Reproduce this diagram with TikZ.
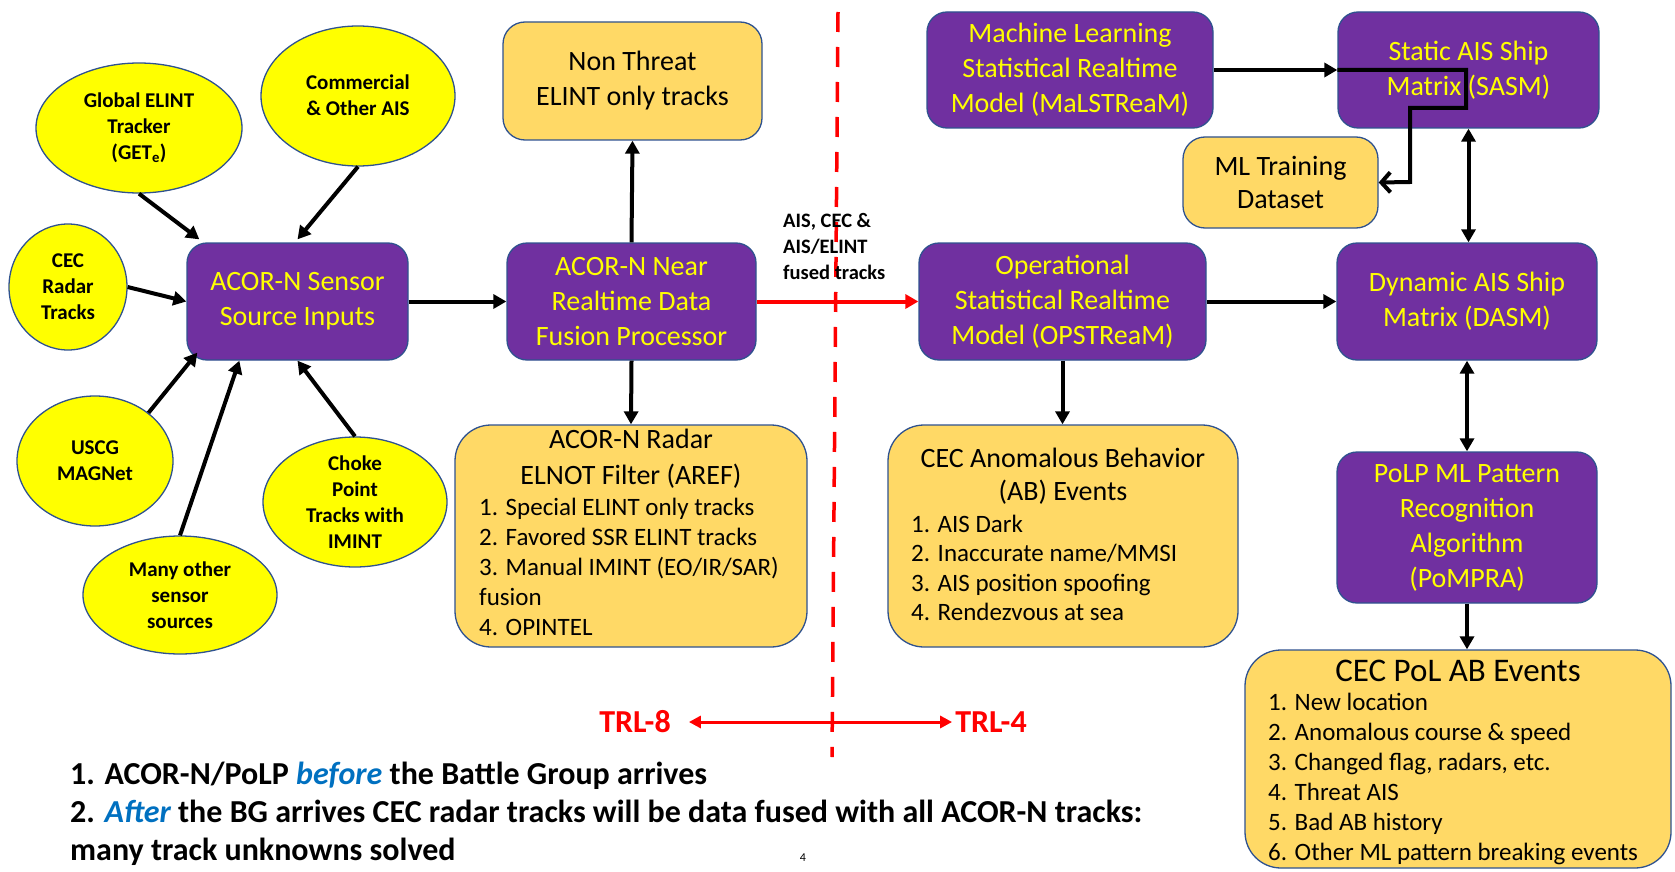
\documentclass[tikz,border=0pt]{standalone}
\usepackage{fontspec}
\setmainfont{Carlito}
\usetikzlibrary{arrows.meta,shapes.geometric,calc}
\definecolor{purp}{HTML}{7030A0}
\definecolor{gold}{HTML}{FFD966}
\definecolor{edgeblue}{HTML}{2F528F}
\definecolor{ylw}{HTML}{FFFF00}
\definecolor{bluetxt}{HTML}{0070C0}
\definecolor{myred}{HTML}{FF0000}
\begin{document}
\begin{tikzpicture}[x=1pt,y=-1pt,
  srcshape/.style={ellipse, draw=edgeblue, line width=1.3pt, fill=ylw, inner sep=0pt},
  srctext/.style={align=center, inner sep=0pt, font=\fontsize{21}{26}\selectfont\bfseries},
  pbox/.style={rectangle, rounded corners=20pt, draw=edgeblue, line width=1.3pt, fill=purp, text=ylw, align=center, inner sep=0pt, font=\fontsize{28}{35}\selectfont},
  obox/.style={rectangle, rounded corners=22pt, draw=edgeblue, line width=1.3pt, fill=gold, align=center, inner sep=0pt, font=\fontsize{28}{35}\selectfont},
  bigbox/.style={rectangle, rounded corners=36pt, draw=edgeblue, line width=1.3pt, fill=gold, inner sep=0pt},
  boxtitle/.style={align=center, inner sep=0pt, font=\fontsize{28}{36}\selectfont},
  boxitems/.style={align=left, inner sep=0pt, anchor=west, font=\fontsize{25}{30}\selectfont},
  arr/.style={line width=4pt, -{Triangle[length=13pt,width=14pt]}},
  dblarr/.style={line width=4pt, {Triangle[length=13pt,width=14pt]}-{Triangle[length=13pt,width=14pt]}},
  redarr/.style={myred, line width=4pt, -{Triangle[length=13pt,width=14pt]}},
  reddash/.style={myred, line width=3.5pt, dash pattern=on 20pt off 15pt},
  trl/.style={text=myred, inner ysep=0pt, font=\fontsize{32}{36}\selectfont\bfseries},
  lbl/.style={align=left, inner sep=0pt, font=\fontsize{20.5}{26}\selectfont\bfseries}
]
\useasboundingbox (0,0) rectangle (1675,872);

% ---------- source ellipses ----------
\node[srcshape, minimum width=206pt, minimum height=130pt] (ell_global) at (139,128) {};
\node[srctext] (t_global) at (ell_global) {Global ELINT\\Tracker\\(GET\textsubscript{e})};
\node[srcshape, minimum width=194pt, minimum height=140pt] (ell_comm) at (358,96) {};
\node[srctext] (t_comm) at (358,95) {Commercial\\\& Other AIS};
\node[srcshape, minimum width=118pt, minimum height=126pt] (ell_cec) at (68,287) {};
\node[srctext] (t_cec) at (ell_cec) {CEC\\Radar\\Tracks};
\node[srcshape, minimum width=156pt, minimum height=130pt] (ell_uscg) at (95,461) {};
\node[srctext] (t_uscg) at (ell_uscg) {USCG\\MAGNet};
\node[srcshape, minimum width=194pt, minimum height=118pt] (ell_many) at (180,595) {};
\node[srctext] (t_many) at (ell_many) {Many other\\sensor\\sources};
\node[srcshape, minimum width=184pt, minimum height=130pt] (ell_choke) at (355,502) {};
\node[srctext] (t_choke) at (ell_choke) {Choke\\Point\\Tracks with\\IMINT};

% ---------- boxes ----------
\node[pbox, minimum width=221pt, minimum height=117pt] (sensor) at (297.5,301.5) {ACOR-N Sensor\\Source Inputs};
\node[pbox, minimum width=249pt, minimum height=117pt] (near) at (631.5,301.5) {ACOR-N Near\\Realtime Data\\Fusion Processor};
\node[obox, minimum width=259pt, minimum height=118pt] (nonthreat) at (632.5,81) {Non Threat\\ELINT only tracks};

\node[bigbox, minimum width=352pt, minimum height=222pt] (aref) at (631,536) {};
\node[boxtitle] (aref_t) at (631,459) {ACOR-N Radar\\ELNOT Filter (AREF)};
\node[boxitems] (aref_i) at (479,567) {1. Special ELINT only tracks\\2. Favored SSR ELINT tracks\\3. Manual IMINT (EO/IR/SAR)\\fusion\\4. OPINTEL};

\node[pbox, minimum width=286pt, minimum height=116pt] (malstream) at (1070,70) {Machine Learning\\Statistical Realtime\\Model (MaLSTReaM)};
\node[pbox, minimum width=261pt, minimum height=116pt] (sasm) at (1468.5,70) {Static AIS Ship\\Matrix (SASM)};
\node[obox, font=\fontsize{28}{33}\selectfont, minimum width=195pt, minimum height=91pt] (mltrain) at (1280.5,182.5) {ML Training\\Dataset};
\node[pbox, minimum width=287pt, minimum height=117pt] (ops) at (1062.5,301.5) {Operational\\Statistical Realtime\\Model (OPSTReaM)};
\node[pbox, minimum width=260pt, minimum height=117pt] (dasm) at (1467,301.5) {Dynamic AIS Ship\\Matrix (DASM)};

\node[bigbox, minimum width=350pt, minimum height=222pt] (ab) at (1063,536) {};
\node[boxtitle, font=\fontsize{28}{33}\selectfont] (ab_t) at (1063,476) {CEC Anomalous Behavior\\(AB) Events};
\node[boxitems, font=\fontsize{25}{29.5}\selectfont] (ab_i) at (911,568) {1. AIS Dark\\2. Inaccurate name/MMSI\\3. AIS position spoofing\\4. Rendezvous at sea};

\node[pbox, minimum width=260pt, minimum height=151pt] (pompra) at (1467,527.5) {PoLP ML Pattern\\Recognition\\Algorithm\\(PoMPRA)};

\node[bigbox, minimum width=426pt, minimum height=218pt] (pol) at (1458,759) {};
\node[inner sep=0pt, font=\fontsize{33}{38}\selectfont] (pol_t) at (1458,671) {CEC PoL AB Events};
\node[boxitems] (pol_i) at (1268,779) {1. New location\\2. Anomalous course \& speed\\3. Changed flag, radars, etc.\\4. Threat AIS\\5. Bad AB history\\6. Other ML pattern breaking events};

% ---------- dashed divider and TRL ----------
\coordinate (dtop) at (838,12);
\coordinate (dbot) at (832,757);
\draw[reddash] (dtop) -- (dbot);
\node[lbl, anchor=west] (fused) at (783,246) {AIS, CEC \&\\AIS/ELINT\\fused tracks};

\coordinate (tmid) at (833,722);
\node[trl, inner xsep=18pt] (trl8) at (635,722) {TRL-8};
\node[trl, inner xsep=3pt] (trl4) at (991,722) {TRL-4};
\draw[myred, line width=3pt, -{Triangle[length=12pt,width=12pt]}] (tmid) -- (trl8.east);
\draw[myred, line width=3pt, -{Triangle[length=12pt,width=12pt]}] (tmid) -- (trl4.west);

% ---------- connectors ----------
\draw[arr] (ell_global.south) -- ([xshift=13pt,yshift=3pt]sensor.north west);
\draw[arr] (ell_comm.south) -- ([yshift=3pt]sensor.north);
\draw[arr] (ell_cec.east) -- (sensor.west);
\draw[arr] (ell_uscg.42) -- ([xshift=11pt,yshift=8pt]sensor.south west);
\draw[arr] (ell_many.north) -- ([xshift=53pt]sensor.south west);
\draw[arr] (ell_choke.north) -- (sensor.south);

\draw[arr] (sensor.east) -- (near.west);
\draw[arr] (near.north) -- (nonthreat.south);
\draw[arr] (near.south) -- (aref.north);
\draw[redarr] (near.east) -- (ops.west);
\draw[arr] (ops.south) -- (ops.south |- ab.north);
\draw[arr] (ops.east) -- (ops.east -| dasm.west);
\draw[arr] (malstream.east) -- (malstream.east -| sasm.west);
\draw[line width=4pt, -{Straight Barb[length=9pt,width=20pt]}] (malstream.east -| sasm.west) -- (1466,70) -- (1466,108) -- (1410,108) -- (1410,182) -- (mltrain.east);
\draw[dblarr] (sasm.south) -- (sasm.south |- dasm.north);
\draw[dblarr] (dasm.south) -- (pompra.north);
\draw[arr] (pompra.south) -- (pompra.south |- pol.north);

% ---------- bottom notes ----------
\node[anchor=west, align=left, inner sep=0pt, font=\fontsize{32}{38}\selectfont\bfseries] (notes) at (70,814) {1. ACOR-N/PoLP \textcolor{bluetxt}{\itshape before} the Battle Group arrives\\2. \textcolor{bluetxt}{\itshape After} the BG arrives CEC radar tracks will be data fused with all ACOR-N tracks:\\many track unknowns solved};
\node[inner sep=0pt, font=\fontsize{12}{14}\selectfont] (pagenum) at (803,858) {4};
\end{tikzpicture}
\end{document}
